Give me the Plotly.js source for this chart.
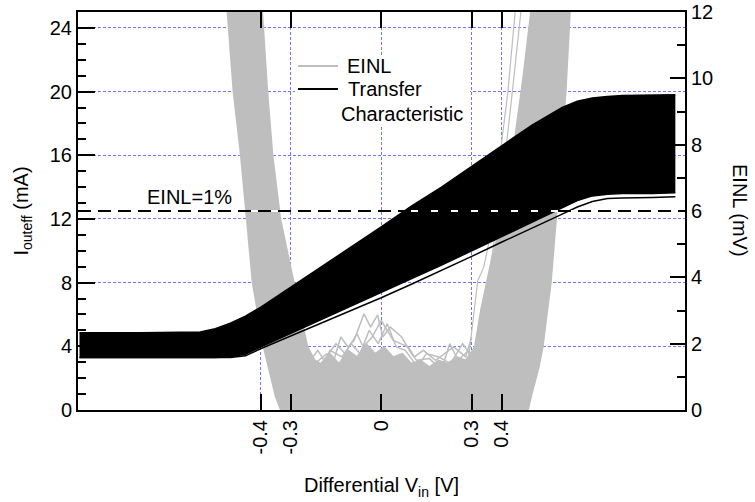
<!DOCTYPE html>
<html>
<head>
<meta charset="utf-8">
<script src="https://cdn.plot.ly/plotly-3.0.1.min.js"></script>
<style>html,body{margin:0;padding:0;background:#fff;}#chart{width:755px;height:502px;}</style>
</head>
<body>
<div id="chart"></div>
<script>
// ---- Transfer characteristic (mA, left axis) ----
const vinGrid = [-1.0, -0.8, -0.6, -0.55, -0.5, -0.45, -0.4, -0.3, -0.2, -0.1, 0, 0.1, 0.2, 0.3, 0.4, 0.5, 0.6, 0.65, 0.7, 0.75, 0.8, 0.9, 0.975];
const tcHigh = [4.85, 4.85, 4.9, 5.1, 5.45, 5.9, 6.45, 7.7, 8.95, 10.2, 11.5, 12.8, 14.0, 15.3, 16.6, 17.9, 19.0, 19.4, 19.6, 19.7, 19.75, 19.8, 19.8];
const tcLow = [3.3, 3.3, 3.3, 3.3, 3.35, 3.5, 3.95, 4.8, 5.65, 6.5, 7.4, 8.25, 9.1, 10.0, 10.9, 11.8, 12.7, 13.15, 13.45, 13.55, 13.6, 13.6, 13.65];
const tcOutlier = [3.3, 3.3, 3.3, 3.3, 3.3, 3.4, 3.85, 4.65, 5.45, 6.25, 7.05, 7.9, 8.75, 9.65, 10.55, 11.4, 12.3, 12.75, 13.1, 13.28, 13.32, 13.35, 13.4];

// ---- EINL (mV, right axis) ----
const einlOuterV = [-0.53, -0.51, -0.49, -0.466, -0.446, -0.427, -0.39, -0.35, -0.333, 0.487, 0.497, 0.523, 0.536, 0.563, 0.58, 0.612, 0.626, 0.64];
const einlOuterMv = [12.6, 12.0, 9.6, 7.7, 5.76, 3.86, 1.9, 0.4, 0.0, 0.0, 0.4, 1.3, 1.9, 3.86, 5.76, 9.6, 12.0, 12.6];
const einlInnerV = [-0.40, -0.394, -0.377, -0.36, -0.334, -0.29, -0.267, -0.244, -0.22, -0.2, -0.17, -0.14, -0.11, -0.08, -0.05, -0.02, 0.01, 0.04, 0.07, 0.1, 0.13, 0.16, 0.19, 0.22, 0.25, 0.28, 0.31, 0.33, 0.36, 0.40, 0.44, 0.47, 0.496, 0.50];
const einlInnerMv = [12.6, 12.0, 9.6, 7.7, 5.76, 3.86, 2.8, 1.9, 1.5, 1.4, 1.7, 1.4, 1.8, 1.6, 2.0, 1.7, 1.9, 1.6, 1.7, 1.4, 1.5, 1.3, 1.5, 1.4, 1.6, 1.5, 1.9, 3.0, 4.3, 5.76, 8.0, 10.0, 12.0, 12.6];
const einlSpikeAV = [-0.3, -0.26, -0.22, -0.18, -0.16, -0.134, -0.11, -0.09, -0.057, -0.035, -0.012, 0.005, 0.03, 0.068, 0.1, 0.117, 0.16, 0.177, 0.2, 0.227, 0.255, 0.29, 0.31];
const einlSpikeAMv = [0.6, 1.2, 1.4, 1.7, 1.4, 2.2, 1.9, 2.1, 2.9, 2.5, 2.87, 2.2, 2.5, 2.2, 1.7, 1.5, 1.55, 1.4, 1.2, 2.0, 1.5, 1.8, 1.2];
const einlSpikeBV = [-0.28, -0.24, -0.2, -0.17, -0.13, -0.1, -0.07, -0.04, -0.01, 0.02, 0.05, 0.08, 0.12, 0.15, 0.19, 0.23, 0.27, 0.3];
const einlSpikeBMv = [0.8, 1.5, 1.1, 1.8, 1.6, 2.0, 1.7, 2.4, 2.0, 2.6, 1.9, 1.8, 1.3, 1.7, 1.6, 1.4, 2.0, 1.6];
const einlSpikeCV = [-0.29, -0.25, -0.21, -0.19, -0.15, -0.12, -0.08, -0.06, -0.03, 0.0, 0.04, 0.09, 0.11, 0.14, 0.18, 0.21, 0.24, 0.28, 0.3];
const einlSpikeCMv = [1.0, 1.3, 1.8, 1.5, 2.0, 1.7, 2.3, 1.9, 2.2, 2.7, 2.1, 1.9, 1.6, 1.8, 1.5, 1.7, 1.9, 1.6, 2.2];
const einlRightAV = [0.29, 0.32, 0.34, 0.36, 0.39, 0.42, 0.45];
const einlRightAMv = [1.6, 3.9, 4.3, 5.2, 7.4, 9.6, 12.6];
const einlRightBV = [0.30, 0.33, 0.37, 0.40, 0.43, 0.47];
const einlRightBMv = [1.2, 2.6, 4.8, 6.8, 9.2, 12.6];
const einlLimit = 6; // EINL = 1%

// ---- Axis ticks ----
const xTickVals = [-0.4, -0.3, 0, 0.3, 0.4];
const xTickText = ['-0.4', '-0.3', '0', '0.3', '0.4'];

// ---- Legend entries ----
const legendNames = ['EINL', 'Transfer', 'Characteristic'];

const GRAY = '#bebebe';
const FONT = 'Arial, "Liberation Sans", sans-serif';

// EINL on the primary (right-side) axis 'y'; transfer characteristic on overlaying 'y2' so it draws on top
const traces = [
  {x: einlOuterV, y: einlOuterMv, yaxis: 'y', mode: 'lines', name: 'EINL',
   line: {color: GRAY, width: 1.5}},
  {x: einlInnerV, y: einlInnerMv, yaxis: 'y', mode: 'lines', fill: 'tonexty', fillcolor: GRAY,
   line: {color: GRAY, width: 1.5}},
  {x: einlSpikeAV, y: einlSpikeAMv, yaxis: 'y', mode: 'lines', line: {color: GRAY, width: 1.5}},
  {x: einlSpikeBV, y: einlSpikeBMv, yaxis: 'y', mode: 'lines', line: {color: GRAY, width: 1.5}},
  {x: einlSpikeCV, y: einlSpikeCMv, yaxis: 'y', mode: 'lines', line: {color: GRAY, width: 1.5}},
  {x: einlRightAV, y: einlRightAMv, yaxis: 'y', mode: 'lines', line: {color: GRAY, width: 1.2}},
  {x: einlRightBV, y: einlRightBMv, yaxis: 'y', mode: 'lines', line: {color: GRAY, width: 1.2}},
  {x: vinGrid, y: tcHigh, yaxis: 'y2', mode: 'lines', name: 'Transfer Characteristic',
   line: {color: 'black', width: 1.5}},
  {x: vinGrid, y: tcLow, yaxis: 'y2', mode: 'lines', fill: 'tonexty', fillcolor: 'black',
   line: {color: 'black', width: 1.5}},
  {x: vinGrid, y: tcOutlier, yaxis: 'y2', mode: 'lines',
   line: {color: 'black', width: 1.5}}
];

const gridCol = '#7373ff';
const px2x = p => (p - 78) / 607;
const px2y = p => (410 - p) / 398;

const layout = {
  width: 755, height: 502,
  margin: {l: 78, r: 70, t: 12, b: 92},
  paper_bgcolor: 'white', plot_bgcolor: 'white',
  font: {family: FONT, size: 20, color: 'black'},
  showlegend: false,
  xaxis: {
    range: [-1.005, 1.007], tickmode: 'array', tickvals: xTickVals, ticktext: xTickText,
    tickangle: -90, ticks: 'inside', ticklen: 16, tickwidth: 2, tickcolor: 'black',
    showline: true, linewidth: 2, linecolor: 'black', mirror: 'ticks',
    showgrid: true, gridcolor: gridCol, gridwidth: 1, griddash: '3px,2px', zeroline: false,
    tickfont: {size: 20},
    title: {text: 'Differential V<sub>in</sub> [V]', font: {size: 20}, standoff: 25}
  },
  yaxis: {
    range: [0, 12], side: 'right', tickmode: 'linear', tick0: 0, dtick: 2,
    ticks: 'inside', ticklen: 15, tickwidth: 2, tickcolor: 'black',
    minor: {dtick: 1, ticks: 'inside', ticklen: 8, tickwidth: 2, tickcolor: 'black', showgrid: false},
    showline: true, linewidth: 2, linecolor: 'black',
    showgrid: false, zeroline: false, tickfont: {size: 20}
  },
  yaxis2: {
    range: [0, 25], overlaying: 'y', side: 'left', tickmode: 'linear', tick0: 0, dtick: 4,
    ticks: 'inside', ticklen: 17, tickwidth: 2, tickcolor: 'black',
    minor: {dtick: 1, ticks: 'inside', ticklen: 8, tickwidth: 2, tickcolor: 'black', showgrid: false},
    showline: true, linewidth: 2, linecolor: 'black',
    showgrid: true, gridcolor: gridCol, gridwidth: 1, griddash: '3px,2px', zeroline: false,
    tickfont: {size: 20},
    title: {text: 'I<sub>outeff</sub> (mA)', font: {size: 20}, standoff: 16}
  },
  shapes: [
    // EINL = 1% limit line
    {type: 'line', xref: 'paper', x0: 0, x1: 1, yref: 'y', y0: einlLimit, y1: einlLimit,
     line: {color: 'white', width: 2}, layer: 'above'},
    {type: 'line', xref: 'paper', x0: 0, x1: 1, yref: 'y', y0: einlLimit, y1: einlLimit,
     line: {color: 'black', width: 2, dash: '13px,7px'}, layer: 'above'},
    // legend box and samples
    {type: 'rect', xref: 'paper', yref: 'paper', x0: px2x(295), x1: px2x(470), y0: px2y(125), y1: px2y(55),
     fillcolor: 'white', line: {width: 0}, layer: 'above'},
    {type: 'line', xref: 'paper', yref: 'paper', x0: px2x(298), x1: px2x(338), y0: px2y(66), y1: px2y(66),
     line: {color: GRAY, width: 2}, layer: 'above'},
    {type: 'line', xref: 'paper', yref: 'paper', x0: px2x(298), x1: px2x(338), y0: px2y(89), y1: px2y(89),
     line: {color: 'black', width: 2}, layer: 'above'}
  ],
  annotations: [
    {text: legendNames[0], xref: 'paper', x: px2x(345), xanchor: 'left', yref: 'paper', y: px2y(66), yanchor: 'middle',
     showarrow: false, font: {size: 20}},
    {text: legendNames[1], xref: 'paper', x: px2x(346), xanchor: 'left', yref: 'paper', y: px2y(89), yanchor: 'middle',
     showarrow: false, font: {size: 20}},
    {text: legendNames[2], xref: 'paper', x: px2x(339), xanchor: 'left', yref: 'paper', y: px2y(114), yanchor: 'middle',
     showarrow: false, font: {size: 20}},
    {text: 'EINL=1%', xref: 'x', x: -0.782, xanchor: 'left', yref: 'y', y: 6.42, yanchor: 'middle',
     showarrow: false, font: {size: 20}},
    {text: 'EINL (mV)', xref: 'paper', x: px2x(740), xanchor: 'center', yref: 'paper', y: px2y(210), yanchor: 'middle',
     textangle: 90, showarrow: false, font: {size: 20}}
  ]
};

Plotly.newPlot('chart', traces, layout, {displayModeBar: false, staticPlot: true});
</script>
</body>
</html>
